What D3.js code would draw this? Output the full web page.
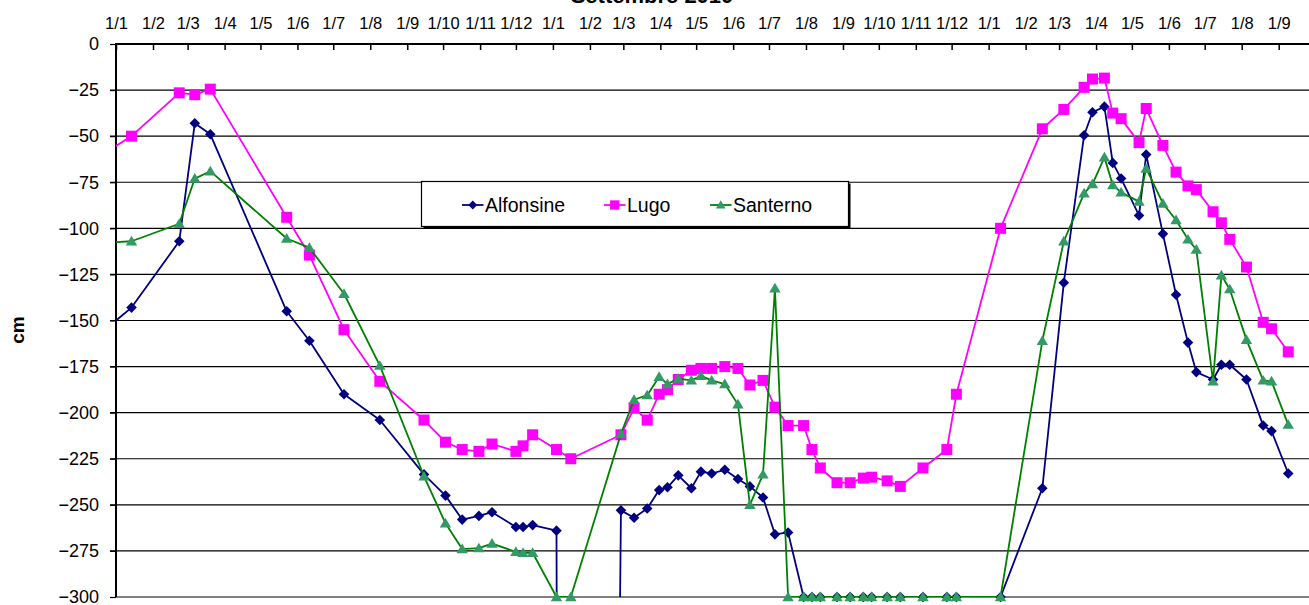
<!DOCTYPE html>
<html>
<head>
<meta charset="utf-8">
<script src="https://cdn.jsdelivr.net/npm/d3@7"></script>
<style>
  body { margin: 0; background: #fff; }
  text { font-family: "Liberation Sans", Arial, sans-serif; }
</style>
</head>
<body>
<svg id="chart"></svg>
<script>
// sampling dates (first one lies before the axis start, its line is clipped)
const dates = [
  "2007-12-18","2008-01-14","2008-02-23","2008-03-07","2008-03-20","2008-05-23","2008-06-11","2008-07-10","2008-08-09","2008-09-15",
  "2008-10-03","2008-10-17","2008-10-31","2008-11-11","2008-12-01","2008-12-07","2008-12-15","2009-01-04","2009-01-16","2009-02-27",
  "2009-03-10","2009-03-21","2009-03-31","2009-04-07","2009-04-16","2009-04-27","2009-05-05","2009-05-14","2009-05-25","2009-06-05",
  "2009-06-15","2009-06-26","2009-07-06","2009-07-17","2009-07-30","2009-08-06","2009-08-13","2009-08-27","2009-09-07","2009-09-18",
  "2009-09-25","2009-10-08","2009-10-19","2009-11-07","2009-11-27","2009-12-05","2010-01-11","2010-02-15","2010-03-05","2010-03-22",
  "2010-03-29","2010-04-08","2010-04-15","2010-04-22","2010-05-07","2010-05-13","2010-05-27","2010-06-07","2010-06-17","2010-06-24",
  "2010-07-08","2010-07-15","2010-07-22","2010-08-05","2010-08-19","2010-08-26","2010-09-09"
];

// -3000 = reading far below the axis floor (line drops out of the plot)
const alfonsine = [
  -157.5,-143,-107,-43,-49,-145,-161,-190,-204,-233.5,
  -245,-258,-256,-254,-262,-262,-261,-264,-3000,-253,
  -257,-252,-242,-240.5,-234,-241,-232,-233,-231,-236,
  -240,-246,-266,-265,-300,-300,-300,-300,-300,-300,
  -300,-300,-300,-300,-300,-300,-300,-241,-129.5,-49.5,
  -37,-34,-64.5,-73,-93,-60,-103,-136,-162,-178,
  -182,-174,-174,-182,-207,-210,-233
];

const lugo = [
  -61,-50,-26.5,-27.5,-24.5,-94,-114.5,-155,-183,-204,
  -216,-220,-221,-217,-221,-218,-212,-220,-225,-212,
  -197.5,-204,-190,-187.5,-182,-177,-176,-176,-175,-176,
  -185,-182.5,-197,-207,-207,-220,-230,-238,-238,-235.5,
  -235,-237,-240,-230,-220,-190,-100,-46,-35.5,-23.5,
  -19,-18.5,-37.5,-40.5,-53.5,-35,-55,-69.5,-77,-79,
  -91,-97,-106,-121,-151,-154.5,-167
];

const santerno = [
  -108,-107,-97.5,-73,-69,-105.5,-110.5,-135.5,-174.5,-234.5,
  -260,-274,-273.5,-271,-275.5,-276,-276,-300,-300,-211.5,
  -193,-190.5,-180.5,-184.5,-181.5,-182.5,-180,-182.5,-184.5,-195.5,
  -250,-233.5,-132.5,-300,-300,-300,-300,-300,-300,-300,
  -300,-300,-300,-300,-300,-300,-300,-161,-107,-81,
  -76,-61.5,-76.5,-80.5,-85.5,-67.5,-86.5,-95.5,-106,-111.5,
  -183,-125.5,-133,-160.5,-182.5,-183,-206.5
];

const seriesNames = ["Alfonsine", "Lugo", "Santerno"];
const yTicks = [0, -25, -50, -75, -100, -125, -150, -175, -200, -225, -250, -275, -300];
const xFirstTick = "2008-01-01";
const xLastTick = "2010-09-01";
const title = "Settembre 2010";
const yLabel = "cm";

const W = 1309, H = 605;
const plotLeft = 116, plotTop = 44, plotBottom = 597;
const parse = d3.utcParse("%Y-%m-%d");

const styles = {
  Alfonsine: { line: "#000080", fill: "#000080", shape: "diamond" },
  Lugo: { line: "#ff00ff", fill: "#ff00ff", shape: "square" },
  Santerno: { line: "#008000", fill: "#339966", shape: "triangle" }
};
const shapes = {
  diamond: "M0,-5.3L5.3,0L0,5.3L-5.3,0Z",
  square: "M-5.5,-5.5H5.5V5.5H-5.5Z",
  triangle: "M0,-5.5L5.7,4.2H-5.7Z"
};

const svg = d3.select("#chart").attr("width", W).attr("height", H);

const x = d3.scaleUtc()
  .domain([parse(xFirstTick), parse(xLastTick)])
  .range([plotLeft, 1278.7]);

const y = d3.scaleLinear()
  .domain([0, -300])
  .range([plotTop, plotBottom]);

const months = d3.utcMonth.range(parse(xFirstTick), d3.utcDay.offset(parse(xLastTick), 1));

svg.append("defs").append("clipPath").attr("id", "plot")
  .append("rect").attr("x", plotLeft).attr("y", plotTop)
  .attr("width", W - plotLeft).attr("height", plotBottom - plotTop);

// gridlines
svg.append("g")
  .selectAll("line")
  .data(yTicks)
  .enter()
  .append("line")
  .attr("x1", (d) => (d === 0 || d === -300) ? plotLeft : plotLeft - 6)
  .attr("x2", W)
  .attr("y1", (d) => y(d))
  .attr("y2", (d) => y(d))
  .attr("stroke", (d) => d === -300 ? "#808080" : "#000")
  .attr("stroke-width", (d) => (d === 0 || d === -300) ? 2 : 1.2);

// y labels
svg.append("g")
  .attr("transform", `translate(${plotLeft},0)`)
  .call(d3.axisLeft(y).tickValues(yTicks).tickSize(6).tickPadding(11))
  .call((g) => g.select(".domain").remove())
  .call((g) => g.selectAll(".tick line").attr("stroke", "#000").attr("stroke-width", 1.2))
  .call((g) => g.selectAll("text").attr("font-size", 18).attr("fill", "#000")
    .style("font-family", "'Liberation Sans', Arial, sans-serif"));

// y axis line
svg.append("line")
  .attr("x1", plotLeft).attr("x2", plotLeft)
  .attr("y1", plotTop).attr("y2", plotBottom)
  .attr("stroke", "#000").attr("stroke-width", 2);

// top time axis
svg.append("g")
  .attr("transform", `translate(0,${plotTop})`)
  .call(d3.axisTop(x).tickValues(months).tickFormat(d3.utcFormat("%-d/%-m")).tickSize(-6).tickPadding(15))
  .call((g) => g.select(".domain").remove())
  .call((g) => g.selectAll(".tick line").attr("stroke", "#000").attr("stroke-width", 1.5))
  .call((g) => g.selectAll("text").attr("font-size", 16.5).attr("fill", "#000")
    .style("font-family", "'Liberation Sans', Arial, sans-serif"));

// series
const allSeries = [alfonsine, lugo, santerno].map((vals, i) => ({
  name: seriesNames[i],
  points: vals.map((v, j) => ({ date: parse(dates[j]), value: v }))
}));

const line = d3.line()
  .x((d) => x(d.date))
  .y((d) => y(d.value));

const seriesG = svg.selectAll(".series")
  .data(allSeries)
  .enter()
  .append("g")
  .attr("class", "series");

seriesG.append("path")
  .attr("clip-path", "url(#plot)")
  .attr("d", (d) => line(d.points))
  .attr("fill", "none")
  .attr("stroke", (d) => styles[d.name].line)
  .attr("stroke-width", 1.8)
  .attr("stroke-linejoin", "round");

seriesG.each(function (s) {
  const st = styles[s.name];
  d3.select(this).selectAll("path.mark")
    .data(s.points.filter((p) => p.value >= -300 && p.date >= x.domain()[0]))
    .enter()
    .append("path")
    .attr("class", "mark")
    .attr("d", shapes[st.shape])
    .attr("transform", (p) => `translate(${x(p.date)},${y(p.value)})`)
    .attr("fill", st.fill);
});

// top border drawn over the series
svg.append("line")
  .attr("x1", plotLeft - 1).attr("x2", W)
  .attr("y1", plotTop).attr("y2", plotTop)
  .attr("stroke", "#000").attr("stroke-width", 2);

// legend
const lg = svg.append("g");
lg.append("rect")
  .attr("x", 423.5).attr("y", 183.5).attr("width", 427).attr("height", 45)
  .attr("fill", "#000");
lg.append("rect")
  .attr("x", 421.5).attr("y", 181.5).attr("width", 427).attr("height", 45)
  .attr("fill", "#fff").attr("stroke", "#000").attr("stroke-width", 1.2);

const legendX = [462, 604, 710];
seriesNames.forEach((name, i) => {
  const st = styles[name];
  const g = lg.append("g").attr("transform", `translate(${legendX[i]},205)`);
  g.append("line").attr("x1", 0).attr("x2", 21.5).attr("y1", 0).attr("y2", 0)
    .attr("stroke", st.line).attr("stroke-width", 1.8);
  g.append("path").attr("d", shapes[st.shape])
    .attr("transform", "translate(10.75,0) scale(0.85)")
    .attr("fill", st.fill);
  g.append("text").attr("x", 23).attr("y", 7)
    .attr("font-size", 19.5).attr("fill", "#000")
    .text(name);
});

// axis title and chart title
svg.append("text")
  .attr("transform", "translate(24,330) rotate(-90)")
  .attr("text-anchor", "middle")
  .attr("font-size", 19).attr("font-weight", "bold")
  .text(yLabel);

svg.append("text")
  .attr("x", 652).attr("y", 3)
  .attr("text-anchor", "middle")
  .attr("font-size", 22).attr("font-weight", "bold")
  .text(title);
</script>
</body>
</html>
